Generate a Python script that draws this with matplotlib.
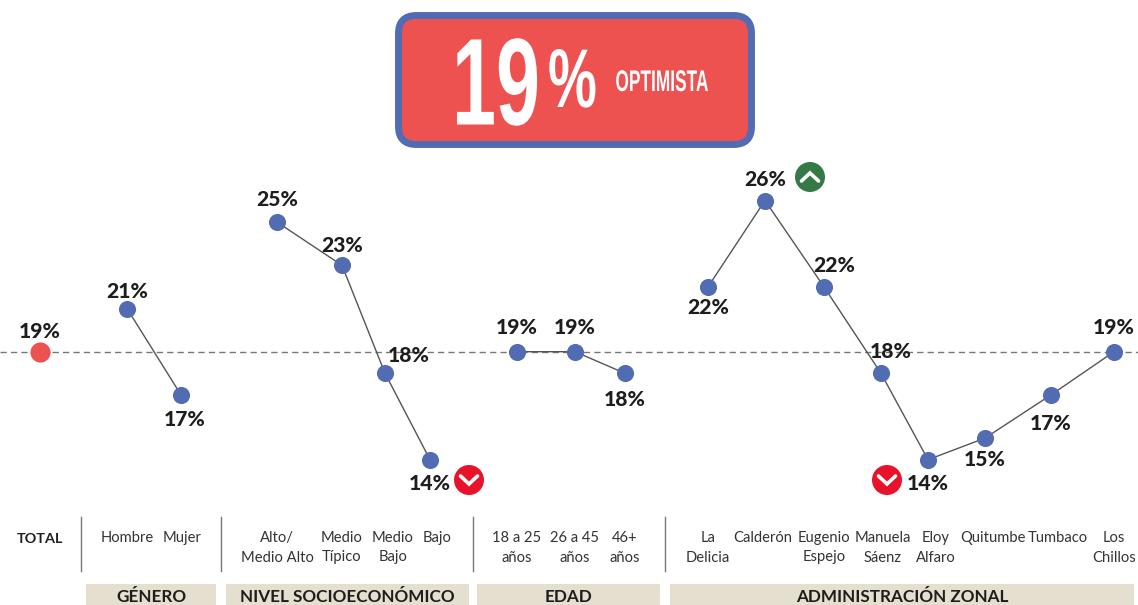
import matplotlib
matplotlib.use("Agg")
import matplotlib.pyplot as plt
from matplotlib.patches import Circle, FancyBboxPatch, Rectangle
from matplotlib.patheffects import AbstractPathEffect
from matplotlib.transforms import Affine2D

# ---------- data ----------
total_label = "TOTAL"
total_value = [19]
genero_labels = ["Hombre", "Mujer"]
genero_values = [21, 17]
nse_labels = ["Alto/\nMedio Alto", "Medio\nTípico", "Medio\nBajo", "Bajo"]
nse_values = [25, 23, 18, 14]
edad_labels = ["18 a 25\naños", "26 a 45\naños", "46+\naños"]
edad_values = [19, 19, 18]
zonal_labels = ["La\nDelicia", "Calderón", "Eugenio\nEspejo", "Manuela\nSáenz", "Eloy\nAlfaro",
                "Quitumbe", "Tumbaco", "Los\nChillos"]
zonal_values = [22, 26, 22, 18, 14, 15, 17, 19]
group_titles = ["GÉNERO", "NIVEL SOCIOECONÓMICO", "EDAD", "ADMINISTRACIÓN ZONAL"]

# ---------- layout (pixels) ----------
W, H = 1138, 605
PX_PER_PCT = 21.6
Y19 = 351.7
genero_x = [127, 181]
nse_x = [277, 342, 385, 430]
edad_x = [517, 575, 625]
zonal_x = [708, 765, 824, 881, 928, 985, 1051, 1114]
total_x = [40]
genero_lx = [(127, 291), (185, 419)]
nse_lx = [(277, 200), (342, 246), (409, 355), (430, 484)]
edad_lx = [(517, 327), (575, 327), (625, 399)]
zonal_lx = [(708, 308), (765, 180), (834, 265), (891, 351), (928, 484), (985, 459), (1051, 423), (1114, 327)]
total_lx = [(40, 331)]
genero_tx = [127, 182]
nse_tx = [277, 342, 393, 437]
edad_tx = [517, 575, 625]
zonal_tx = [708, 763, 824, 883, 936, 993, 1058, 1114]
bands = [(86, 216), (226, 469), (477, 660), (670, 1134)]
separators = [81, 221, 473, 665]

BLUE = "#516cb3"
RED = "#ee5250"
SAND = "#e4dfcf"
INK = "#1d1d1b"
LABEL_FONT = ["Lato", "DejaVu Sans"]
COND_FONT = ["Liberation Sans", "DejaVu Sans"]

fig = plt.figure(figsize=(W / 100, H / 100), dpi=100, facecolor="white")

# data axes: x in pixels, y in percent
ax = fig.add_axes([0, 0, 1, 1])
ax.set_xlim(0, W)
ax.set_ylim(19 - (H - Y19) / PX_PER_PCT, 19 + Y19 / PX_PER_PCT)
ax.axis("off")

# overlay axes for annotations in pixel coordinates
ov = fig.add_axes([0, 0, 1, 1])
ov.set_xlim(0, W)
ov.set_ylim(H, 0)
ov.axis("off")
ov.patch.set_alpha(0)

ax.axhline(total_value[0], color="#777777", lw=1.0, ls=(0, (4.5, 3)), zorder=1)

for xs, vals, lxy in [(genero_x, genero_values, genero_lx), (nse_x, nse_values, nse_lx),
                      (edad_x, edad_values, edad_lx), (zonal_x, zonal_values, zonal_lx),
                      (total_x, total_value, total_lx)]:
    is_total = xs is total_x
    ax.plot(xs, vals, color="#555555", lw=1.0, marker="o", ms=14.5 if is_total else 12.3,
            mfc=RED if is_total else BLUE, mec="none", zorder=3)
    for (lx, ly), v in zip(lxy, vals):
        ov.text(lx, ly, f"{v}%", ha="center", va="center", fontsize=15.2, fontweight=900,
                family=LABEL_FONT, color=INK)

# tick labels
for xs, labs in [(genero_tx, genero_labels), (nse_tx, nse_labels), (edad_tx, edad_labels), (zonal_tx, zonal_labels)]:
    for x, lab in zip(xs, labs):
        ov.text(x, 531, lab, ha="center", va="top", fontsize=10.6, family=LABEL_FONT, color="#333333",
                linespacing=1.5)
ov.text(40, 539, total_label, ha="center", va="center", fontsize=10.4, fontweight="bold",
        family=LABEL_FONT, color=INK)

for x in separators:
    ov.plot([x, x], [517, 571], color="#777777", lw=1.0)
for (x0, x1), t in zip(bands, group_titles):
    ov.add_patch(Rectangle((x0, 584), x1 - x0, H - 584, fc=SAND, ec="none"))
    ov.text((x0 + x1) / 2, 597.5, t, ha="center", va="center", fontsize=12.3, fontweight="bold",
            family=LABEL_FONT, color=INK)

# headline box
ov.add_patch(FancyBboxPatch((398.5 + 18, 15.5 + 18), 353 - 36, 129 - 36,
                            boxstyle="round,pad=18,rounding_size=18", fc=RED, ec=BLUE, lw=5, zorder=2))


class Condense(AbstractPathEffect):
    """Squeeze real text horizontally about an anchor given in display pixels."""
    def __init__(self, sx, x0):
        super().__init__()
        self.sx, self.x0 = sx, x0

    def draw_path(self, renderer, gc, tpath, affine, rgbFace=None):
        a = affine + Affine2D().translate(-self.x0, 0).scale(self.sx, 1).translate(self.x0, 0)
        renderer.draw_path(gc, tpath, a, rgbFace)


def cond_text(x, y, s, size, sx, weight="bold"):
    t = ov.text(x, y, s, ha="center", va="center", fontsize=size, fontweight=weight, family=COND_FONT,
                color="white", zorder=4)
    t.set_path_effects([Condense(sx, x)])
    return t


cond_text(496, 92.5, "19", 89, 0.64)
cond_text(572.5, 85, "%", 60, 0.66)
cond_text(662, 83, "OPTIMISTA", 21.5, 0.58)


def badge(x, y, color, up):
    ov.add_patch(Circle((x, y), 15, fc=color, ec="none", zorder=4))
    d = -4 if up else 4
    ov.plot([x - 8.5, x, x + 8.5], [y - d, y + d, y - d], color="white", lw=2.6, zorder=5,
            solid_capstyle="round", solid_joinstyle="miter")


badge(810, 177, "#357a46", True)
badge(469, 480, "#e8132b", False)
badge(887, 480, "#e8132b", False)

fig.savefig("out.png", dpi=100, facecolor="white")
